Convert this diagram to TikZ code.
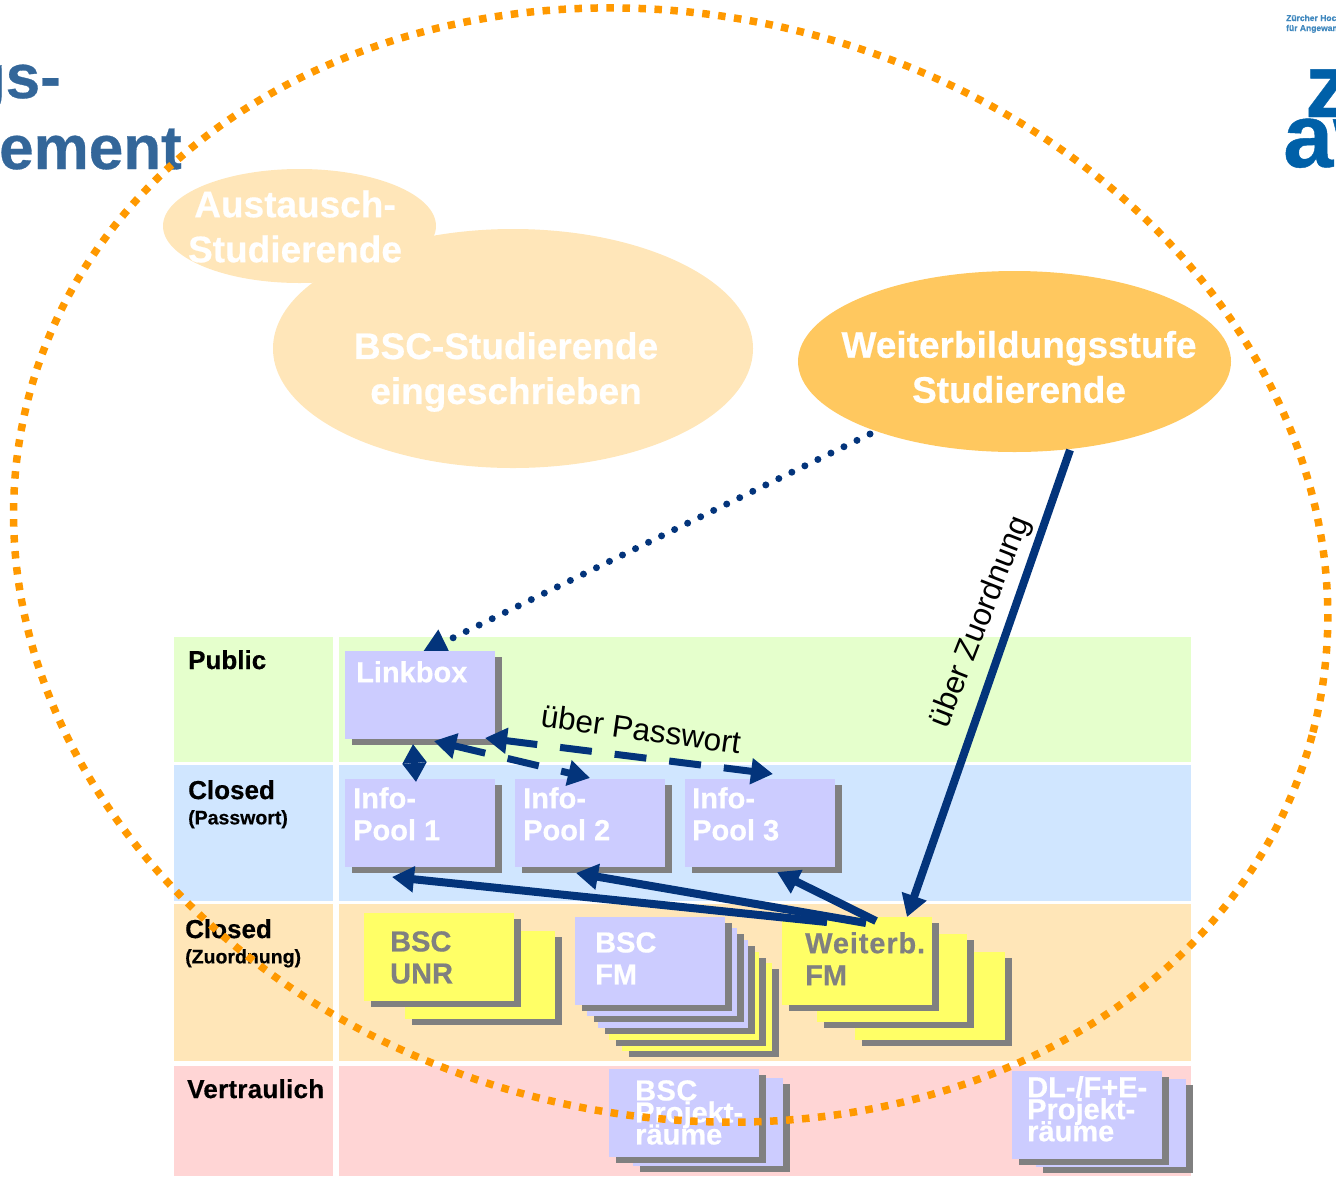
\documentclass[tikz,border=0pt]{standalone}
\usepackage{fontspec}
\setmainfont{Liberation Sans}[BoldFeatures={FakeBold=0.5}]
\usetikzlibrary{arrows.meta,shapes.geometric,shadows}
\pgfdeclarelayer{back}
\pgfsetlayers{back,main}
\definecolor{lav}{HTML}{CCCCFF}
\definecolor{shade}{HTML}{808080}
\definecolor{yel}{HTML}{FFFF66}
\definecolor{bandgreen}{HTML}{E5FFCC}
\definecolor{bandblue}{HTML}{D0E6FF}
\definecolor{bandtan}{HTML}{FFE6B8}
\definecolor{bandpink}{HTML}{FFD5D5}
\definecolor{elllight}{HTML}{FFE6B9}
\definecolor{ellstrong}{HTML}{FFC85F}
\definecolor{dotorange}{HTML}{FF9900}
\definecolor{navy}{HTML}{03347B}
\definecolor{titleblue}{HTML}{336699}
\definecolor{logoblue}{HTML}{0060A8}
\newcommand{\fs}[2]{\fontsize{#1}{#2}\selectfont\lineskiplimit=-60pt }
\tikzset{
  band/.style={rectangle,anchor=north west,inner sep=0pt,outer sep=0pt,draw=none},
  card/.style={rectangle,anchor=north west,inner sep=0pt,outer sep=0pt,minimum width=150pt,minimum height=88pt,
    drop shadow={shadow xshift=6.5pt,shadow yshift=-6pt,fill=shade,opacity=1}},
  lavcard/.style={card,fill=lav},
  yelcard/.style={card,fill=yel},
  blob/.style={ellipse,inner sep=0pt,outer sep=0pt,draw=none},
  blobtext/.style={align=center,text=white,font=\bfseries\fs{37}{45}},
  rowhead/.style={anchor=north west,inner sep=0pt,align=left,font=\bfseries\fs{26}{27}},
  rowsub/.style={anchor=north west,inner sep=0pt,align=left,font=\bfseries\fs{19.5}{20}},
  cardtext/.style={anchor=north west,inner sep=0pt,align=left,text=white,font=\bfseries\fs{29}{32}},
  tighttext/.style={anchor=north west,inner sep=0pt,align=left,text=white,font=\bfseries\fs{29}{22}},
  link/.style={draw=navy,line width=8pt},
  dashlink/.style={draw=navy,line width=7pt,dash pattern=on 32pt off 23pt},
  dotlink/.style={draw=navy,line width=7pt,line cap=round,dash pattern=on 0pt off 14.5pt},
  arrowlabel/.style={inner sep=0pt,font=\fs{31.5}{33}},
  >={Triangle[length=22pt,width=25pt]}
}
\begin{document}
\begin{tikzpicture}[x=1pt,y=-1pt]
\useasboundingbox (0,0) rectangle (1336,1176);
\clip (0,0) rectangle (1336,1176);

% title and logo
\node[anchor=base east,inner sep=0pt,text=titleblue,font=\bfseries\fs{62}{64}] (title1) at (61,98) {gs-};
\node[anchor=base east,inner sep=0pt,text=titleblue,font=\bfseries\fs{62}{64}] (title2) at (182,169) {ement};
\node[anchor=base west,inner sep=0pt,text=logoblue!75,font=\bfseries\fs{8.5}{9}] (logosmall1) at (1286,21) {Zürcher Hoch};
\node[anchor=base west,inner sep=0pt,text=logoblue!75,font=\bfseries\fs{8.5}{9}] (logosmall2) at (1286,31) {für Angewandte};
\node[anchor=base west,inner sep=0pt,text=logoblue,font=\bfseries\fs{90}{90}] (logoz) at (1305,117) {z};
\node[anchor=base west,inner sep=0pt,text=logoblue,font=\bfseries\fs{90}{90}] (logoa) at (1283,167) {aw};

\begin{pgfonlayer}{back}
% bands
\node[band,fill=bandgreen,minimum width=159pt,minimum height=125pt] (b1l) at (174,637) {};
\node[band,fill=bandgreen,minimum width=852pt,minimum height=125pt] (b1r) at (339,637) {};
\node[band,fill=bandblue,minimum width=159pt,minimum height=136pt] (b2l) at (174,765) {};
\node[band,fill=bandblue,minimum width=852pt,minimum height=136pt] (b2r) at (339,765) {};
\node[band,fill=bandtan,minimum width=159pt,minimum height=157pt] (b3l) at (174,904) {};
\node[band,fill=bandtan,minimum width=852pt,minimum height=157pt] (b3r) at (339,904) {};
\node[band,fill=bandpink,minimum width=159pt,minimum height=110pt] (b4l) at (174,1066) {};
\node[band,fill=bandpink,minimum width=852pt,minimum height=110pt] (b4r) at (339,1066) {};
% ellipses
\node[blob,fill=elllight,minimum width=273pt,minimum height=114pt] (aus) at (299.5,226) {};
\node[blob,fill=elllight,minimum width=480pt,minimum height=239pt] (bsc) at (513,348.5) {};
\node[blob,fill=ellstrong,minimum width=433pt,minimum height=181pt] (wb) at (1014.5,361.5) {};
\end{pgfonlayer}

\node[blobtext] (aust) at (295,226.5) {Austausch-\\Studierende};
\node[blobtext] (bsct) at (506,372) {BSC-Studierende\\eingeschrieben};
\node[blobtext] (wbt) at (1019,367) {Weiterbildungsstufe\\Studierende};

% cards
\node[lavcard] (link) at (345,651) {};
\node[lavcard] (info1) at (345,779) {};
\node[lavcard] (info2) at (515,779) {};
\node[lavcard] (info3) at (685,779) {};

\node[yelcard] (unrb) at (405,931) {};
\node[yelcard] (unr) at (364,913) {};

\node[yelcard] (fm5) at (622,963) {};
\node[yelcard] (fm4) at (609,952) {};
\node[lavcard] (fm3) at (598,940) {};
\node[lavcard] (fm2) at (587,928) {};
\node[lavcard] (fm1) at (575,917) {};

\node[yelcard] (wf3) at (855,952) {};
\node[yelcard] (wf2) at (817,934) {};
\node[yelcard] (wf) at (782,917) {};

\node[lavcard] (pr2) at (633,1078) {};
\node[lavcard] (pr1) at (609,1069) {};
\node[lavcard] (dl2) at (1036,1079) {};
\node[lavcard] (dl1) at (1012,1071) {};

% connectors
\begin{pgfonlayer}{back}
\draw[dotlink,-{Triangle[length=25pt,width=26pt]}] ([xshift=-144.5pt,yshift=-72.5pt]wb.center) -- ([xshift=77pt,yshift=-2pt]link.north west);
\end{pgfonlayer}

\draw[link,->] ([xshift=45pt,yshift=-5pt]wf.north west) -- ([xshift=47pt,yshift=-10pt]info1.south west);
\draw[link,->] ([xshift=84pt,yshift=-6pt]wf.north west) -- ([xshift=61pt,yshift=-6pt]info2.south west);
\draw[link,->] ([xshift=94pt,yshift=-4pt]wf.north west) -- ([xshift=92pt,yshift=-5pt]info3.south west);
\draw[link,->] ([xshift=55.5pt,yshift=-88.5pt]wb.center) -- ([xshift=125pt]wf.north west);
\draw[dashlink,<->] ([xshift=140pt,yshift=1pt]link.south west) -- ([xshift=88pt,yshift=5pt]info3.north west);
\draw[dashlink,<->] ([xshift=89pt,yshift=-2pt]link.south west) -- ([xshift=75pt,yshift=1pt]info2.north west);
\draw[draw=navy,line width=7pt,{Triangle[length=19pt,width=23pt]}-{Triangle[length=19pt,width=23pt]}] ([xshift=68pt,yshift=-5pt]link.south west) -- ([xshift=71pt,yshift=-3pt]info1.north west);

\node[arrowlabel,rotate=68.5] (lzu) at (981,622) {über Zuordnung};
\node[arrowlabel,rotate=-8] (lpw) at (641,729) {über Passwort};

% row headings
\node[rowhead] (r1) at (188,650) {Public};
\node[rowhead] (r2) at (188,780) {Closed};
\node[rowsub] (r2s) at (188,810) {(Passwort)};
\node[rowhead] (r3) at (185,919) {Closed};
\node[rowsub] (r3s) at (185,949) {(Zuordnung)};
\node[rowhead] (r4) at (187,1079) {\addfontfeature{LetterSpace=1}Vertraulich};

% card texts
\node[cardtext] (tlink) at (356,661) {Linkbox};
\node[cardtext] (t1) at (353,787) {Info-\\Pool 1};
\node[cardtext] (t2) at (523,787) {Info-\\Pool 2};
\node[cardtext] (t3) at (692,787) {Info-\\Pool 3};
\node[cardtext,text=shade] (tunr) at (390,931) {BSC\\UNR};
\node[cardtext] (tfm) at (595,932) {BSC\\FM};
\node[cardtext,text=shade] (twf) at (805,932) {\addfontfeature{LetterSpace=3}Weiterb.\\FM};
\node[tighttext] (tpr) at (635,1080) {\addfontfeature{LetterSpace=1.5}BSC\\Projekt-\\räume};
\node[tighttext] (tdl) at (1027,1076) {DL-/F+E-\\Projekt-\\räume};

% big dotted ellipse
\node[ellipse,inner sep=0pt,outer sep=0pt,draw=dotorange,line width=7.5pt,dash pattern=on 7.5pt off 8.5pt,minimum width=1327.4pt,minimum height=1098pt,rotate=-14.6] (scope) at (670.7,565) {};
\end{tikzpicture}
\end{document}
